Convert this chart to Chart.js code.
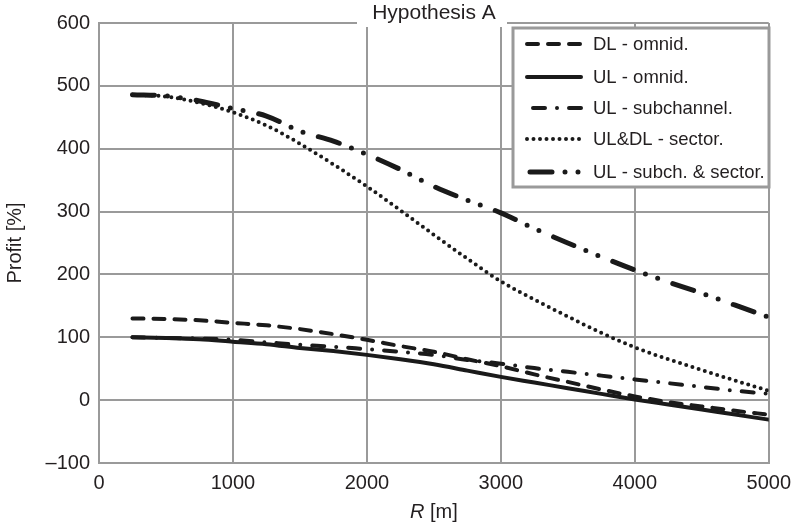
<!DOCTYPE html>
<html>
<head>
<meta charset="utf-8">
<title>Hypothesis A</title>
<script src="https://cdn.jsdelivr.net/npm/chart.js@4.4.1/dist/chart.umd.min.js"></script>
<style>
  html, body { margin: 0; padding: 0; background: #ffffff; }
  #wrap { position: relative; width: 799px; height: 529px; }
</style>
</head>
<body>
<div id="wrap"><canvas id="chart"></canvas></div>
<script>
/* global Chart */

// Cell radius R [m] at which each profit value was read
const R_VALUES = [250, 500, 750, 1000, 1250, 1500, 1750, 2000, 2250, 2500,
                  2750, 3000, 3250, 3500, 3750, 4000, 4250, 4500, 4750, 5000];

// Profit [%] per series
const DL_OMNI = [130, 129, 127, 123, 119, 113, 105, 96, 86, 77,
                 65, 54, 41, 29, 17, 6, -3, -10, -17, -23];
const UL_OMNI = [100, 99, 97, 93, 89, 83, 78, 72, 65, 57,
                 47, 37, 28, 19, 10, 1, -7, -15, -23, -31];
const UL_SUBCH = [100, 99, 98, 96, 92, 88, 85, 81, 77, 72,
                  64, 58, 51, 45, 39, 33, 27, 21, 15, 10];
const ULDL_SECTOR = [486, 483, 473, 458, 437, 408, 375, 340, 302, 263,
                     225, 189, 160, 133, 107, 84, 65, 48, 31, 15];
const UL_SUBCH_SECTOR = [486, 484, 476, 464, 452, 428, 412, 391, 367, 340,
                         318, 298, 273, 250, 228, 207, 188, 170, 151, 132];

const SERIES_LABELS = ['DL - omnid.', 'UL - omnid.', 'UL - subchannel.',
                       'UL&DL - sector.', 'UL - subch. & sector.'];

const X_TICKS = [0, 1000, 2000, 3000, 4000, 5000];
const Y_TICKS = [-100, 0, 100, 200, 300, 400, 500, 600];

const TITLE_TEXT = 'Hypothesis A';
const FONT_FAMILY = "'Liberation Sans', Arial, Helvetica, sans-serif";
const TEXT_COLOR = '#231f20';
const LINE_COLOR = '#1a1a1a';
const GRID_COLOR = '#9a9a9a';

/**
 * Pair the R values with one series into {x, y} points.
 */
function toPoints(values) {
  return R_VALUES.map((r, i) => ({ x: r, y: values[i] }));
}

// Line styles for each series (dash patterns with round caps)
const LINE_STYLES = [
  { borderWidth: 4, borderDash: [11, 10] },
  { borderWidth: 4, borderDash: [] },
  { borderWidth: 4, borderDash: [12, 12, 0, 12] },
  { borderWidth: 4, borderDash: [0, 6.5] },
  { borderWidth: 5, borderDash: [22, 13, 0, 13, 0, 16] },
];

const SERIES_VALUES = [DL_OMNI, UL_OMNI, UL_SUBCH, ULDL_SECTOR, UL_SUBCH_SECTOR];

const datasets = SERIES_VALUES.map((values, i) => ({
  label: SERIES_LABELS[i],
  data: toPoints(values),
  borderColor: LINE_COLOR,
  borderWidth: LINE_STYLES[i].borderWidth,
  borderDash: LINE_STYLES[i].borderDash,
  borderCapStyle: 'round',
  borderJoinStyle: 'round',
  cubicInterpolationMode: 'monotone',
  pointRadius: 0,
  fill: false,
}));

/**
 * Title sitting on the top frame, axis titles and the boxed legend.
 */
const decorations = {
  id: 'decorations',
  afterDatasetsDraw(chart) {
    const ctx = chart.ctx;
    const area = chart.chartArea;
    ctx.save();

    // title knocks out the top frame behind it
    ctx.fillStyle = '#ffffff';
    ctx.fillRect(357, 0, 150, 27);
    ctx.fillStyle = TEXT_COLOR;
    ctx.font = '21px ' + FONT_FAMILY;
    ctx.textAlign = 'center';
    ctx.textBaseline = 'middle';
    ctx.fillText(TITLE_TEXT, 434, 13);

    // y axis title
    ctx.save();
    ctx.translate(15, (area.top + area.bottom) / 2);
    ctx.rotate(-Math.PI / 2);
    ctx.font = '20px ' + FONT_FAMILY;
    ctx.fillText('Profit [%]', 0, 0);
    ctx.restore();

    // x axis title: italic R followed by the unit
    const italic = 'italic 20px ' + FONT_FAMILY;
    const normal = '20px ' + FONT_FAMILY;
    ctx.font = italic;
    const wR = ctx.measureText('R').width;
    ctx.font = normal;
    const wUnit = ctx.measureText(' [m]').width;
    let x0 = (area.left + area.right) / 2 - (wR + wUnit) / 2;
    ctx.textAlign = 'left';
    ctx.font = italic;
    ctx.fillText('R', x0, 512);
    ctx.font = normal;
    ctx.fillText(' [m]', x0 + wR, 512);

    // legend box
    const box = { left: 513, top: 28, right: 769, bottom: 187 };
    ctx.fillStyle = '#ffffff';
    ctx.fillRect(box.left, box.top, box.right - box.left, box.bottom - box.top);
    ctx.strokeStyle = GRID_COLOR;
    ctx.lineWidth = 3;
    ctx.strokeRect(box.left, box.top, box.right - box.left, box.bottom - box.top);

    const rows = [44, 77, 108, 139, 172];
    const starts = [527, 527, 533, 527, 530];
    chart.data.datasets.forEach((ds, i) => {
      const y = rows[i];
      ctx.beginPath();
      ctx.strokeStyle = ds.borderColor;
      ctx.lineWidth = ds.borderWidth;
      ctx.lineCap = 'round';
      ctx.setLineDash(ds.borderDash);
      ctx.moveTo(starts[i], y);
      ctx.lineTo(581, y);
      ctx.stroke();
      ctx.setLineDash([]);

      ctx.fillStyle = TEXT_COLOR;
      ctx.font = '18.5px ' + FONT_FAMILY;
      ctx.textAlign = 'left';
      ctx.textBaseline = 'middle';
      ctx.fillText(ds.label, 593, y + 1);
    });

    ctx.restore();
  },
};

const chart = new Chart(document.getElementById('chart'), {
  type: 'line',
  data: { datasets },
  options: {
    responsive: true,
    maintainAspectRatio: false,
    animation: false,
    layout: { padding: { left: 0, right: 27, top: 23, bottom: 0 } },
    plugins: {
      legend: { display: false },
      tooltip: { enabled: false },
      title: { display: false },
    },
    scales: {
      x: {
        type: 'linear',
        min: 0,
        max: 5000,
        afterBuildTicks(scale) { scale.ticks = X_TICKS.map((v) => ({ value: v })); },
        afterFit(scale) { scale.height = 66; },
        grid: { color: GRID_COLOR, lineWidth: 2, drawTicks: false },
        border: { display: true, color: GRID_COLOR, width: 2 },
        ticks: {
          padding: 8,
          color: TEXT_COLOR,
          font: { family: FONT_FAMILY, size: 20 },
          maxRotation: 0,
          callback: (value) => String(value),
        },
      },
      y: {
        type: 'linear',
        min: -100,
        max: 600,
        afterBuildTicks(scale) { scale.ticks = Y_TICKS.map((v) => ({ value: v })); },
        afterFit(scale) { scale.width = 99; },
        grid: { color: GRID_COLOR, lineWidth: 2, drawTicks: false },
        border: { display: true, color: GRID_COLOR, width: 2 },
        ticks: {
          padding: 9,
          color: TEXT_COLOR,
          font: { family: FONT_FAMILY, size: 20 },
          callback: (value) => String(value).replace('-', '\u2013'),
        },
      },
    },
  },
  plugins: [decorations],
});
</script>
</body>
</html>
